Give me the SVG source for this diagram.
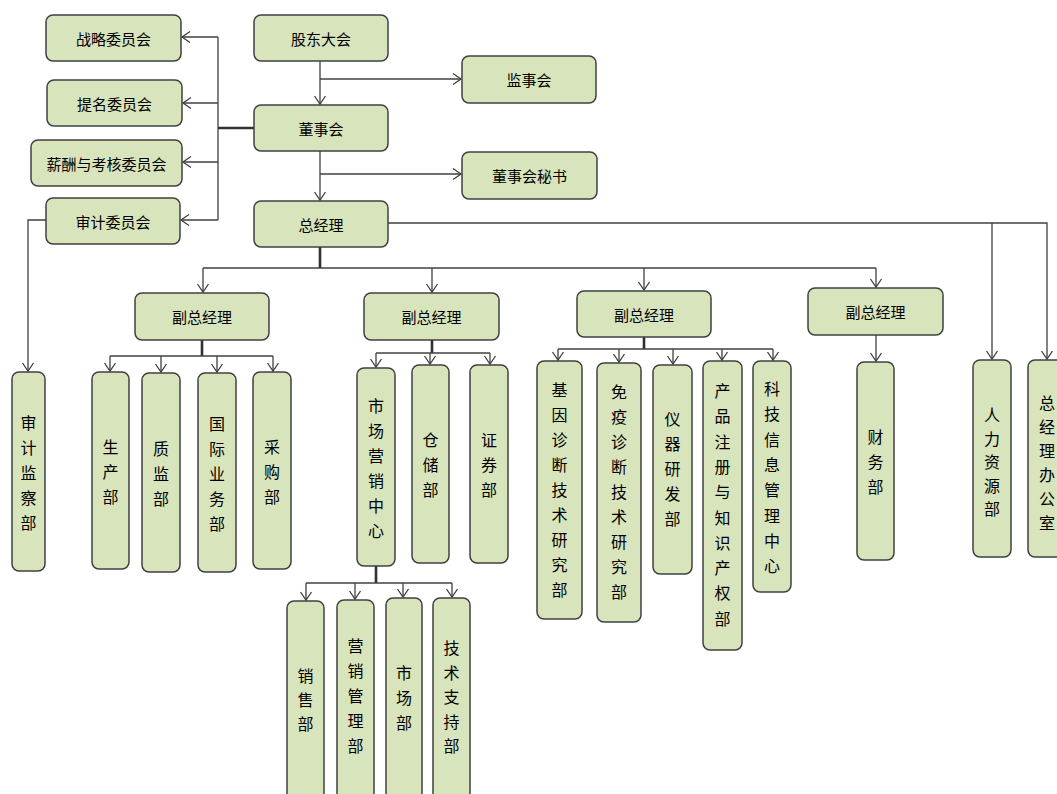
<svg xmlns="http://www.w3.org/2000/svg" width="1057" height="794" viewBox="0 0 1057 794">
<defs>
<marker id="a" markerWidth="12" markerHeight="14" refX="10" refY="7" orient="auto" markerUnits="userSpaceOnUse"><path d="M2,1.5 L10,7 L2,12.5" fill="none" stroke="#404040" stroke-width="1.3"/></marker>
<style>
.n{fill:#d8e4bc;stroke:#404040;stroke-width:1.5}
.t{font-family:"Noto Sans CJK SC","Noto Sans CJK JP",sans-serif;font-size:15px;fill:#000;text-anchor:middle;dominant-baseline:central}
.v{font-family:"Noto Sans CJK SC","Noto Sans CJK JP",sans-serif;font-size:16px;fill:#000;text-anchor:middle;dominant-baseline:central}
.c{fill:none;stroke:#404040;stroke-width:1.3}
.k{fill:none;stroke:#303030;stroke-width:2.6}
.c.m{marker-end:url(#a)}
</style>
</defs>
<rect width="1057" height="794" fill="#fff"/>
<g id="connectors">
<path class="c m" d="M320,61 V104"/>
<path class="c m" d="M320,79 H461"/>
<path class="c m" d="M320,151 V200"/>
<path class="c m" d="M320,174 H461"/>
<path class="k" d="M254,128 H218"/>
<path class="c" d="M218,37 V220"/>
<path class="c m" d="M218,37 H182"/>
<path class="c m" d="M218,103 H183"/>
<path class="c m" d="M218,162 H183"/>
<path class="c m" d="M218,220 H181"/>
<path class="c m" d="M46,220 H28 V371"/>
<path class="c m" d="M388,223 H1047 V359"/>
<path class="c m" d="M992,223 V359"/>
<path class="k" d="M320,247 V268"/>
<path class="c" d="M203,268 H876"/>
<path class="c m" d="M203,268 V292"/>
<path class="c m" d="M432,268 V292"/>
<path class="c m" d="M644,268 V290"/>
<path class="c m" d="M876,268 V287"/>
<path class="k" d="M202,340 V356"/>
<path class="c" d="M110,356 H273"/>
<path class="c m" d="M110,356 V371"/>
<path class="c m" d="M161,356 V372"/>
<path class="c m" d="M217,356 V372"/>
<path class="c m" d="M273,356 V371"/>
<path class="k" d="M432,340 V353"/>
<path class="c" d="M376,353 H490"/>
<path class="c m" d="M376,353 V367"/>
<path class="c m" d="M430,353 V364"/>
<path class="c m" d="M490,353 V364"/>
<path class="k" d="M644,337 V349"/>
<path class="c" d="M558,349 H773"/>
<path class="c m" d="M558,349 V360"/>
<path class="c m" d="M619,349 V362"/>
<path class="c m" d="M673,349 V364"/>
<path class="c m" d="M722,349 V360"/>
<path class="c m" d="M773,349 V360"/>
<path class="c m" d="M876,335 V361"/>
<path class="k" d="M376,566 V583"/>
<path class="c" d="M306,583 H452"/>
<path class="c m" d="M306,583 V600"/>
<path class="c m" d="M355,583 V599"/>
<path class="c m" d="M403,583 V597"/>
<path class="c m" d="M452,583 V597"/>
</g>
<g id="n1"><rect class="n" x="46" y="15" width="135" height="46" rx="7"/><text class="t" x="113.5" y="38">战略委员会</text></g>
<g id="n2"><rect class="n" x="47" y="80" width="135" height="46" rx="7"/><text class="t" x="114.5" y="103">提名委员会</text></g>
<g id="n3"><rect class="n" x="31" y="140" width="151" height="46" rx="7"/><text class="t" x="106.5" y="163">薪酬与考核委员会</text></g>
<g id="n4"><rect class="n" x="46" y="198" width="134" height="46" rx="7"/><text class="t" x="113" y="221">审计委员会</text></g>
<g id="n5"><rect class="n" x="254" y="15" width="134" height="46" rx="7"/><text class="t" x="321" y="38">股东大会</text></g>
<g id="n6"><rect class="n" x="254" y="105" width="134" height="46" rx="7"/><text class="t" x="321" y="128">董事会</text></g>
<g id="n7"><rect class="n" x="254" y="201" width="134" height="46" rx="7"/><text class="t" x="321" y="224">总经理</text></g>
<g id="n8"><rect class="n" x="462" y="56" width="134" height="47" rx="7"/><text class="t" x="529" y="79.5">监事会</text></g>
<g id="n9"><rect class="n" x="462" y="152" width="135" height="47" rx="7"/><text class="t" x="529.5" y="175.5">董事会秘书</text></g>
<g id="n10"><rect class="n" x="135" y="293" width="134" height="47" rx="7"/><text class="t" x="202" y="316.5">副总经理</text></g>
<g id="n11"><rect class="n" x="364" y="293" width="135" height="47" rx="7"/><text class="t" x="431.5" y="316.5">副总经理</text></g>
<g id="n12"><rect class="n" x="577" y="291" width="134" height="46" rx="7"/><text class="t" x="644" y="314">副总经理</text></g>
<g id="n13"><rect class="n" x="808" y="288" width="135" height="47" rx="7"/><text class="t" x="875.5" y="311.5">副总经理</text></g>
<g id="n14"><rect class="n" x="12" y="372" width="33" height="199" rx="7"/><text class="v"><tspan x="28.5" y="421.5">审</tspan><tspan x="28.5" dy="25">计</tspan><tspan x="28.5" dy="25">监</tspan><tspan x="28.5" dy="25">察</tspan><tspan x="28.5" dy="25">部</tspan></text></g>
<g id="n15"><rect class="n" x="92" y="372" width="37" height="197" rx="7"/><text class="v"><tspan x="110.5" y="445.5">生</tspan><tspan x="110.5" dy="25">产</tspan><tspan x="110.5" dy="25">部</tspan></text></g>
<g id="n16"><rect class="n" x="142" y="373" width="38" height="199" rx="7"/><text class="v"><tspan x="161" y="447.5">质</tspan><tspan x="161" dy="25">监</tspan><tspan x="161" dy="25">部</tspan></text></g>
<g id="n17"><rect class="n" x="198" y="373" width="38" height="199" rx="7"/><text class="v"><tspan x="217" y="422.5">国</tspan><tspan x="217" dy="25">际</tspan><tspan x="217" dy="25">业</tspan><tspan x="217" dy="25">务</tspan><tspan x="217" dy="25">部</tspan></text></g>
<g id="n18"><rect class="n" x="253" y="372" width="38" height="197" rx="7"/><text class="v"><tspan x="272" y="445.5">采</tspan><tspan x="272" dy="25">购</tspan><tspan x="272" dy="25">部</tspan></text></g>
<g id="n19"><rect class="n" x="357" y="368" width="38" height="198" rx="7"/><text class="v"><tspan x="376" y="404.5">市</tspan><tspan x="376" dy="25">场</tspan><tspan x="376" dy="25">营</tspan><tspan x="376" dy="25">销</tspan><tspan x="376" dy="25">中</tspan><tspan x="376" dy="25">心</tspan></text></g>
<g id="n20"><rect class="n" x="412" y="365" width="37" height="198" rx="7"/><text class="v"><tspan x="430.5" y="439">仓</tspan><tspan x="430.5" dy="25">储</tspan><tspan x="430.5" dy="25">部</tspan></text></g>
<g id="n21"><rect class="n" x="470" y="365" width="38" height="198" rx="7"/><text class="v"><tspan x="489" y="439">证</tspan><tspan x="489" dy="25">券</tspan><tspan x="489" dy="25">部</tspan></text></g>
<g id="n22"><rect class="n" x="537" y="361" width="45" height="258" rx="7"/><text class="v"><tspan x="559.5" y="389">基</tspan><tspan x="559.5" dy="25">因</tspan><tspan x="559.5" dy="25">诊</tspan><tspan x="559.5" dy="25">断</tspan><tspan x="559.5" dy="25">技</tspan><tspan x="559.5" dy="25">术</tspan><tspan x="559.5" dy="25">研</tspan><tspan x="559.5" dy="25">究</tspan><tspan x="559.5" dy="25">部</tspan></text></g>
<g id="n23"><rect class="n" x="597" y="363" width="44" height="259" rx="7"/><text class="v"><tspan x="619" y="391">免</tspan><tspan x="619" dy="25">疫</tspan><tspan x="619" dy="25">诊</tspan><tspan x="619" dy="25">断</tspan><tspan x="619" dy="25">技</tspan><tspan x="619" dy="25">术</tspan><tspan x="619" dy="25">研</tspan><tspan x="619" dy="25">究</tspan><tspan x="619" dy="25">部</tspan></text></g>
<g id="n24"><rect class="n" x="653" y="365" width="39" height="209" rx="7"/><text class="v"><tspan x="672.5" y="418">仪</tspan><tspan x="672.5" dy="25">器</tspan><tspan x="672.5" dy="25">研</tspan><tspan x="672.5" dy="25">发</tspan><tspan x="672.5" dy="25">部</tspan></text></g>
<g id="n25"><rect class="n" x="703" y="361" width="39" height="289" rx="7"/><text class="v"><tspan x="722.5" y="390">产</tspan><tspan x="722.5" dy="25.3">品</tspan><tspan x="722.5" dy="25.3">注</tspan><tspan x="722.5" dy="25.3">册</tspan><tspan x="722.5" dy="25.3">与</tspan><tspan x="722.5" dy="25.3">知</tspan><tspan x="722.5" dy="25.3">识</tspan><tspan x="722.5" dy="25.3">产</tspan><tspan x="722.5" dy="25.3">权</tspan><tspan x="722.5" dy="25.3">部</tspan></text></g>
<g id="n26"><rect class="n" x="753" y="361" width="38" height="231" rx="7"/><text class="v"><tspan x="772" y="388">科</tspan><tspan x="772" dy="25.3">技</tspan><tspan x="772" dy="25.3">信</tspan><tspan x="772" dy="25.3">息</tspan><tspan x="772" dy="25.3">管</tspan><tspan x="772" dy="25.3">理</tspan><tspan x="772" dy="25.3">中</tspan><tspan x="772" dy="25.3">心</tspan></text></g>
<g id="n27"><rect class="n" x="857" y="362" width="37" height="198" rx="7"/><text class="v"><tspan x="875.5" y="436">财</tspan><tspan x="875.5" dy="25">务</tspan><tspan x="875.5" dy="25">部</tspan></text></g>
<g id="n28"><rect class="n" x="973" y="360" width="38" height="197" rx="7"/><text class="v"><tspan x="992" y="414">人</tspan><tspan x="992" dy="23.5">力</tspan><tspan x="992" dy="23.5">资</tspan><tspan x="992" dy="23.5">源</tspan><tspan x="992" dy="23.5">部</tspan></text></g>
<g id="n29"><rect class="n" x="1028" y="360" width="38" height="197" rx="7"/><text class="v"><tspan x="1047" y="402">总</tspan><tspan x="1047" dy="24">经</tspan><tspan x="1047" dy="24">理</tspan><tspan x="1047" dy="24">办</tspan><tspan x="1047" dy="24">公</tspan><tspan x="1047" dy="24">室</tspan></text></g>
<g id="n30"><rect class="n" x="287" y="601" width="37" height="205" rx="7"/><text class="v"><tspan x="305.5" y="675">销</tspan><tspan x="305.5" dy="24">售</tspan><tspan x="305.5" dy="24">部</tspan></text></g>
<g id="n31"><rect class="n" x="337" y="600" width="37" height="206" rx="7"/><text class="v"><tspan x="355.5" y="645">营</tspan><tspan x="355.5" dy="25">销</tspan><tspan x="355.5" dy="25">管</tspan><tspan x="355.5" dy="25">理</tspan><tspan x="355.5" dy="25">部</tspan></text></g>
<g id="n32"><rect class="n" x="386" y="598" width="36" height="208" rx="7"/><text class="v"><tspan x="404" y="672">市</tspan><tspan x="404" dy="25">场</tspan><tspan x="404" dy="25">部</tspan></text></g>
<g id="n33"><rect class="n" x="433" y="598" width="37" height="208" rx="7"/><text class="v"><tspan x="451.5" y="647">技</tspan><tspan x="451.5" dy="24.5">术</tspan><tspan x="451.5" dy="24.5">支</tspan><tspan x="451.5" dy="24.5">持</tspan><tspan x="451.5" dy="24.5">部</tspan></text></g>
</svg>
